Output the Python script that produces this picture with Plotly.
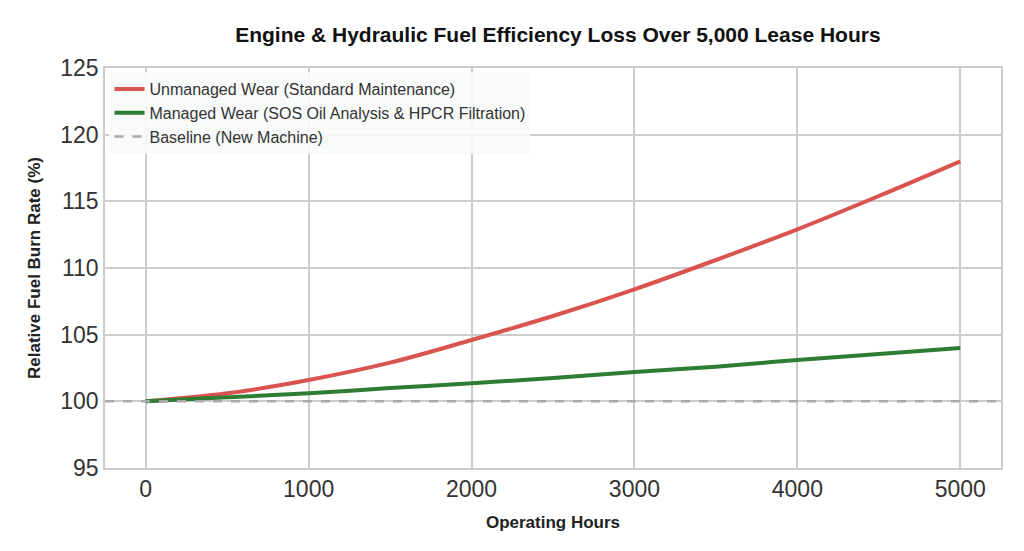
import plotly.graph_objects as go

hours = [0, 500, 1000, 1500, 2000, 2500, 3000, 3500, 4000, 4500, 5000]
unmanaged = [100, 100.6, 101.6, 102.9, 104.6, 106.4, 108.4, 110.6, 112.9, 115.4, 118.0]
managed = [100, 100.3, 100.6, 101.0, 101.35, 101.75, 102.2, 102.6, 103.1, 103.55, 104.0]
baseline = 100

fig = go.Figure()
fig.add_trace(go.Scatter(x=hours, y=unmanaged, mode="lines", line=dict(color="#d9534f", width=4, shape="spline"),
                         name="Unmanaged Wear (Standard Maintenance)"))
fig.add_trace(go.Scatter(x=hours, y=managed, mode="lines", line=dict(color="#2e7d32", width=4, shape="spline"),
                         name="Managed Wear (SOS Oil Analysis & HPCR Filtration)"))
fig.add_trace(go.Scatter(x=[-250, 5250], y=[baseline, baseline], mode="lines",
                         line=dict(color="#aaaaaa", width=2.5, dash="dash"), name="Baseline (New Machine)"))

fig.update_layout(
    width=1024, height=551, plot_bgcolor="white", paper_bgcolor="white",
    font=dict(family="Liberation Sans, Arial", color="#222"),
    title=dict(text="<b>Engine & Hydraulic Fuel Efficiency Loss Over 5,000 Lease Hours</b>",
               x=0.537, xanchor="center", y=0.965, font=dict(size=21, color="#111")),
    margin=dict(l=97, r=31, t=60, b=91),
    legend=dict(x=0.005, y=0.99, xanchor="left", yanchor="top", bgcolor="rgba(248,249,250,0.9)",
                font=dict(size=16, color="#333")),
    showlegend=True,
)
fig.update_xaxes(range=[-250, 5250], tickvals=[0, 1000, 2000, 3000, 4000, 5000], showgrid=True,
                 gridcolor="#cccccc", gridwidth=1.5, zeroline=False, showline=True, linecolor="#cccccc",
                 linewidth=1.5, mirror=True, tickfont=dict(size=23, color="#333"),
                 title=dict(text="<b>Operating Hours</b>", font=dict(size=17, color="#222")))
fig.update_yaxes(range=[95, 125], dtick=5, showgrid=True, gridcolor="#cccccc", gridwidth=1.5, zeroline=False,
                 showline=True, linecolor="#cccccc", linewidth=1.5, mirror=True,
                 tickfont=dict(size=23, color="#333"),
                 title=dict(text="<b>Relative Fuel Burn Rate (%)</b>", font=dict(size=17, color="#222")))

fig.write_html("out.html")
